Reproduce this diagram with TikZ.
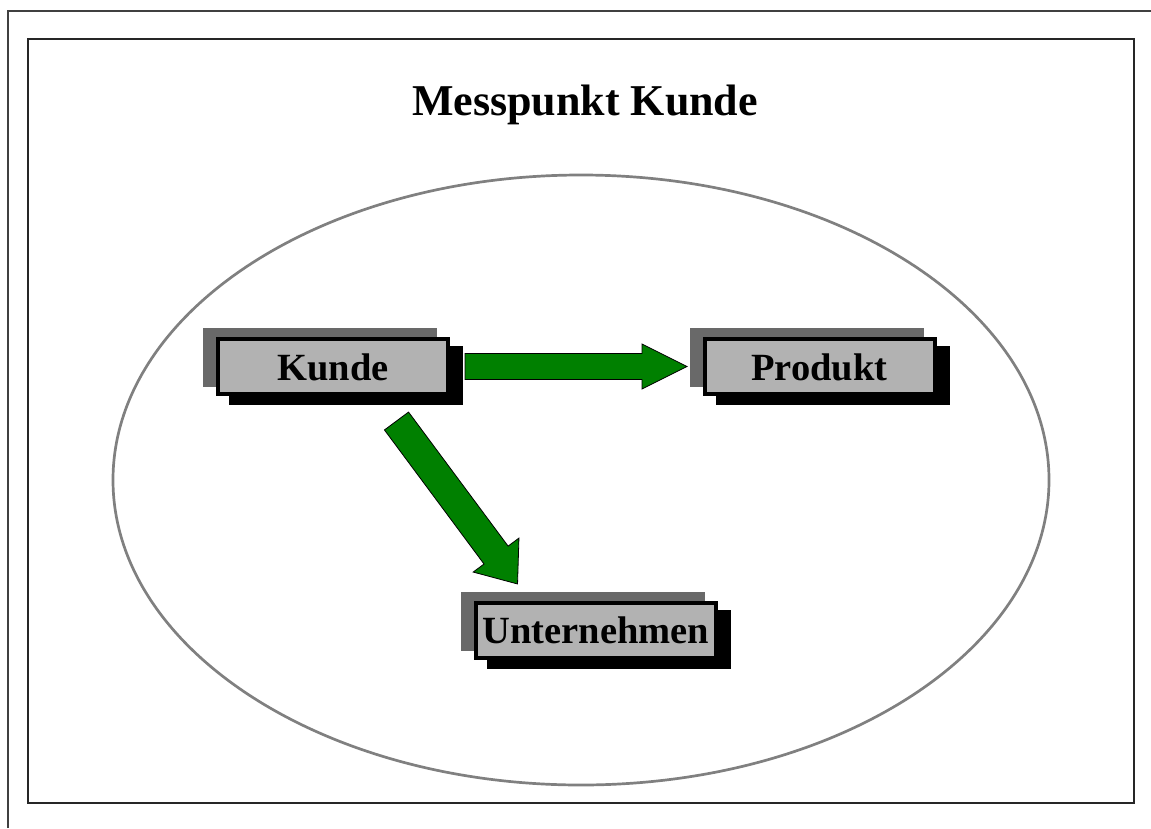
\documentclass[tikz,border=0pt]{standalone}
\usepackage{fontspec}
\setmainfont{Liberation Serif}
\usetikzlibrary{backgrounds}
\definecolor{backgray}{RGB}{105,105,105}
\definecolor{boxgray}{RGB}{178,178,178}
\definecolor{arrowgreen}{RGB}{0,128,0}
\definecolor{ellgray}{RGB}{128,128,128}
\newcommand\blockarr[6]{%
  \begin{scope}[shift={(#1)}, rotate=#2]
    \draw[blockarrow] (0,-#4) -- ({#3-#6},-#4) -- ({#3-#6},-#5) -- (#3,0) -- ({#3-#6},#5) -- ({#3-#6},#4) -- (0,#4) -- cycle;
  \end{scope}}
\begin{document}
\begin{tikzpicture}[x=1pt,y=-1pt,
  box/.style={draw=black, line width=4pt, fill=boxgray, minimum width=230pt, minimum height=55pt,
    inner sep=0pt, font=\fontsize{38.5}{42}\selectfont\bfseries, text height=27pt, text depth=0pt},
  blockarrow/.style={fill=arrowgreen, draw=black, line width=0.8pt, line join=miter}]
\useasboundingbox (0,0) rectangle (1151,828);
% frames
\draw[line width=1.5pt, draw=black!75] (8,828) -- (8,11) -- (1151,11);
\draw[line width=2.2pt, draw=black!85] (28,39) rectangle (1134,803);
% title
\node[font=\fontsize{44}{48}\selectfont\bfseries, anchor=base, inner sep=0pt] (title) at (585,115) {Messpunkt Kunde};
% ellipse
\draw[line width=2.7pt, draw=ellgray] (581,480) ellipse [x radius=468pt, y radius=305pt];
% boxes
\node[box] (kunde) at (333,366.5) {Kunde};
\node[box] (produkt) at (819.5,366.5) {Produkt};
\node[box, minimum width=240pt, text height=26pt] (unternehmen) at (596,630.5) {Unternehmen};
\begin{scope}[on background layer]
  \foreach \n in {kunde,produkt,unternehmen}{
    \fill[backgray] ([shift={(-13,-9)}]\n.north west) rectangle ([shift={(-13,-9)}]\n.south east);
    \fill[black] ([shift={(13,9)}]\n.north west) rectangle ([shift={(13,9)}]\n.south east);
  }
\end{scope}
% arrows
\coordinate (a1s) at ([xshift=15pt]kunde.east);
\coordinate (a2s) at (396.5,421);
\blockarr{a1s}{0}{222}{13}{22.5}{45}
\blockarr{a2s}{-53.4}{203}{15}{28.5}{36}
\end{tikzpicture}
\end{document}
